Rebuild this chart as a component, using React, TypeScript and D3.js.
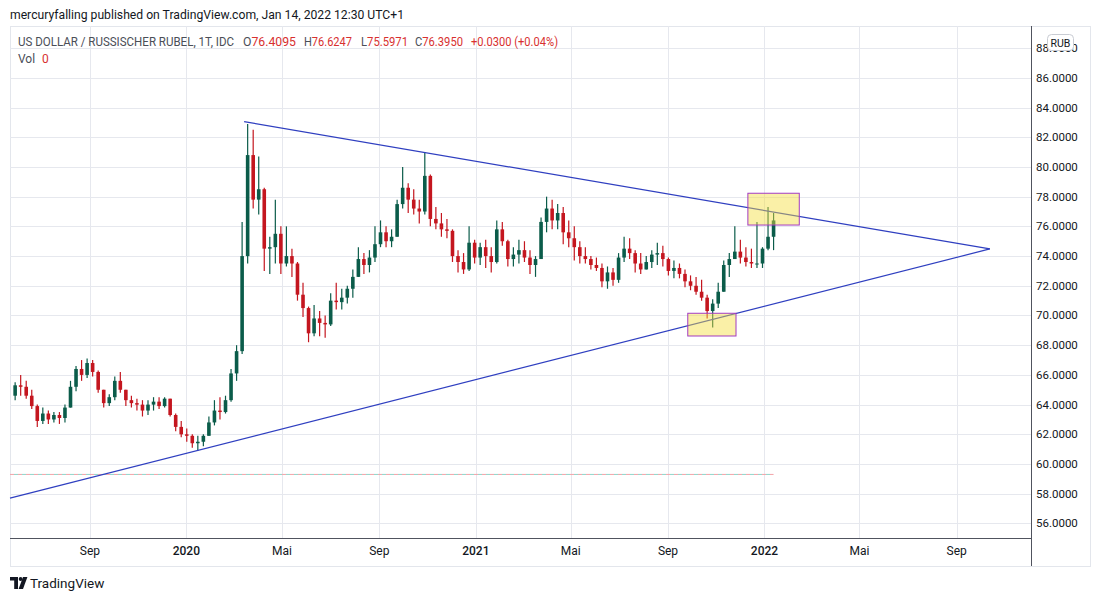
import React from "react";
import * as d3 from "d3";

// ---- data (weekly candles, week of 2019-05-27 .. week of 2022-01-10) ----
const firstOpen = 64.6;
const closes = [
  65.3, 65.2, 64.6, 63.9, 62.9, 63.4, 63.0, 63.3, 63.1, 63.8,
  65.2, 66.4, 66.0, 66.8, 66.2, 65.0, 64.1, 64.5, 65.6, 65.0,
  64.3, 64.1, 64.0, 63.6, 64.0, 64.2, 63.9, 64.4, 63.3, 62.5,
  62.0, 61.9, 61.4, 61.5, 61.9, 62.8, 63.6, 63.5, 64.3, 66.1,
  67.6, 74.0, 80.8, 77.8, 78.5, 74.5, 74.6, 75.5, 73.5, 74.0,
  73.5, 71.4, 70.5, 68.8, 69.8, 69.5, 69.4, 71.0, 70.9, 71.2,
  71.8, 72.6, 73.8, 73.4, 73.9, 74.8, 75.6, 75.0, 75.3, 77.5,
  78.6, 77.8, 77.2, 77.0, 79.4, 76.5, 76.2, 75.8, 75.7, 74.0,
  73.6, 73.1, 74.9, 73.9, 74.6, 74.0, 73.6, 75.8, 75.0, 73.8,
  74.1, 74.4, 73.9, 73.4, 73.8, 76.3, 77.2, 76.4, 76.9, 75.6,
  75.2, 74.6, 74.0, 73.8, 73.4, 73.2, 72.3, 72.9, 72.4, 73.9,
  74.5, 74.2, 73.5, 73.1, 73.6, 74.1, 74.2, 73.8, 73.0, 73.2,
  72.8, 72.3, 72.0, 71.6, 71.2, 70.3, 70.8, 71.6, 73.4, 73.8,
  74.3, 73.9, 73.6, 73.5, 73.5, 74.5, 75.3, 76.4,
];
const highs = [
  65.5, 66.0, 65.6, 65.0, 64.0, 63.8, 63.6, 63.5, 63.5, 64.0,
  65.6, 66.6, 67.0, 67.1, 67.0, 66.3, 65.0, 64.7, 65.9, 66.2,
  65.0, 64.6, 64.4, 64.3, 64.3, 64.5, 64.5, 64.5, 64.4, 63.4,
  62.9, 62.4, 62.0, 61.9, 62.0, 63.2, 64.3, 64.5, 64.6, 66.4,
  68.0, 76.3, 82.9, 82.5, 80.7, 78.6, 75.3, 77.8, 76.0, 76.0,
  74.5, 73.6, 72.2, 70.6, 70.7, 70.3, 70.0, 71.5, 72.2, 71.8,
  72.0, 73.1, 74.6, 74.2, 74.4, 76.0, 76.4, 76.0, 75.8, 77.8,
  80.0, 78.9, 78.5, 77.8, 81.0, 79.5, 77.3, 76.9, 76.5, 75.8,
  74.4, 74.2, 76.0, 75.1, 74.9, 75.1, 74.6, 76.4, 76.3, 75.1,
  74.6, 75.1, 75.0, 74.4, 74.0, 76.6, 78.0, 77.8, 77.5, 77.3,
  76.4, 76.0, 75.0, 74.6, 74.0, 73.9, 73.5, 73.3, 73.2, 74.2,
  75.3, 75.2, 74.4, 74.2, 74.0, 74.4, 74.9, 74.7, 73.9, 73.7,
  73.5, 73.1, 72.7, 72.6, 72.4, 71.4, 71.1, 72.2, 73.7, 74.2,
  76.0, 75.1, 74.6, 74.5, 76.3, 74.6, 77.3, 76.9,
];
const lows = [
  64.3, 64.6, 64.4, 63.7, 62.5, 62.7, 62.7, 62.8, 62.7, 62.8,
  63.8, 64.9, 65.6, 65.8, 65.9, 64.8, 63.8, 63.9, 64.3, 64.8,
  63.9, 63.8, 63.6, 63.2, 63.3, 63.6, 63.7, 63.8, 63.2, 62.2,
  61.8, 61.5, 61.1, 60.9, 61.2, 61.9, 62.6, 63.0, 63.4, 64.2,
  65.6, 67.4, 73.5, 77.2, 76.8, 73.0, 72.8, 73.5, 72.8, 73.3,
  72.6, 71.0, 69.9, 68.2, 68.6, 68.6, 68.5, 69.3, 70.4, 70.4,
  70.8, 71.2, 72.6, 72.8, 72.9, 73.6, 74.6, 74.6, 74.6, 75.3,
  77.2, 76.9, 76.8, 76.2, 76.8, 76.0, 75.8, 75.3, 75.2, 73.6,
  72.9, 72.8, 73.0, 73.5, 73.4, 73.2, 72.9, 73.5, 74.7, 73.3,
  73.3, 73.5, 73.6, 72.8, 72.6, 73.8, 75.6, 75.8, 75.8, 74.8,
  74.6, 73.7, 73.5, 73.5, 73.1, 73.0, 71.9, 71.8, 72.0, 72.2,
  73.6, 73.8, 72.9, 72.8, 73.1, 73.2, 73.4, 73.3, 72.7, 72.5,
  72.5, 71.9, 71.7, 71.4, 71.0, 69.8, 69.2, 70.5, 71.6, 72.6,
  73.8, 73.5, 73.3, 73.2, 73.2, 73.2, 74.4, 74.4,
];

const priceTicks = [56, 58, 60, 62, 64, 66, 68, 70, 72, 74, 76, 78, 80, 82, 84, 86, 88];
const timeTickDates = [
  new Date(2019, 8, 1), new Date(2020, 0, 1), new Date(2020, 4, 1), new Date(2020, 8, 1),
  new Date(2021, 0, 1), new Date(2021, 4, 1), new Date(2021, 8, 1), new Date(2022, 0, 1),
  new Date(2022, 4, 1), new Date(2022, 8, 1),
];
const timeTickLabels = ["Sep", "2020", "Mai", "Sep", "2021", "Mai", "Sep", "2022", "Mai", "Sep"];

// trend lines [date, value]
const upperLine: [Date, number][] = [[new Date(2020, 2, 14), 83.05], [new Date(2022, 9, 13), 74.48]];
const lowerLine: [Date, number][] = [[new Date(2019, 4, 23), 57.71], [new Date(2022, 9, 13), 74.48]];
// highlight boxes [date0, date1, valueTop, valueBottom]
const boxes: [Date, Date, number, number][] = [
  [new Date(2021, 11, 11), new Date(2022, 1, 14), 78.23, 76.09],
  [new Date(2021, 8, 26), new Date(2021, 10, 26), 70.15, 68.62],
];
const priceLineValue = 59.3;

const headerLine = "mercuryfalling published on TradingView.com, Jan 14, 2022 12:30 UTC+1";
const symbolTitle = "US DOLLAR / RUSSISCHER RUBEL, 1T, IDC";
const ohlcLabels = ["O", "H", "L", "C"];
const ohlcValues = ["76.4095", "76.6247", "75.5971", "76.3950"];
const changeText = "+0.0300 (+0.04%)";

const FONT = "Roboto, 'Liberation Sans', sans-serif";
const UP = "#0b5c4a";
const DOWN = "#c4161f";
const RED_TXT = "#d8302f";
const GRAY_TXT = "#4a4e57";

export default function App() {
  const L = 10, R = 1031, T = 26, B = 538;
  const x = d3.scaleTime().domain([new Date(2019, 4, 23), new Date(2022, 11, 4)]).range([L, R]);
  const y = d3.scaleLinear().domain([55.02, 89.49]).range([B, T]);

  const candles = closes.map((c, i) => ({
    date: new Date(2019, 4, 29 + 7 * i, 12),
    open: i === 0 ? firstOpen : closes[i - 1],
    close: c,
    high: highs[i],
    low: lows[i],
  }));
  const lastDate = candles[candles.length - 1].date;
  const line = d3.line<[Date, number]>().x((d) => x(d[0])).y((d) => y(d[1]));

  // legend segment layout [x, width]
  const ohlcPos: [number, number][] = [[243, 53], [304, 48], [361, 47], [415, 48]];

  return (
    <svg width={1100} height={601} style={{ position: "absolute", left: 0, top: 0, background: "#fff" }} fontFamily={FONT}>
      <rect x={0} y={0} width={1100} height={601} fill="#fff" />
      {/* header */}
      <text x={10} y={19} fontSize={12.5} fill="#131722" textLength={394} lengthAdjust="spacingAndGlyphs">{headerLine}</text>

      {/* frame */}
      <rect x={L + 0.5} y={T + 0.5} width={1090 - L} height={566 - T} fill="none" stroke="#e3e6ec" />

      {/* grid */}
      {priceTicks.map((v) => (
        <line key={"h" + v} x1={L} x2={R} y1={Math.round(y(v)) + 0.5} y2={Math.round(y(v)) + 0.5} stroke="#e6e8ee" />
      ))}
      {timeTickDates.map((d, i) => (
        <line key={"v" + i} x1={Math.round(x(d)) + 0.5} x2={Math.round(x(d)) + 0.5} y1={T} y2={B} stroke="#e6e8ee" />
      ))}

      {/* legend */}
      <text x={18} y={46} fontSize={12} fill={GRAY_TXT} textLength={216} lengthAdjust="spacingAndGlyphs">{symbolTitle}</text>
      {ohlcLabels.map((l, i) => (
        <text key={l} x={ohlcPos[i][0]} y={46} fontSize={12} fill={GRAY_TXT} textLength={ohlcPos[i][1]} lengthAdjust="spacingAndGlyphs">
          {l}<tspan fill={RED_TXT}>{ohlcValues[i]}</tspan>
        </text>
      ))}
      <text x={471} y={46} fontSize={12} fill={RED_TXT} textLength={87} lengthAdjust="spacingAndGlyphs">{changeText}</text>
      <text y={63} fontSize={12} fill={GRAY_TXT}>
        <tspan x={18}>Vol</tspan>
        <tspan x={42} fill={RED_TXT}>0</tspan>
      </text>

      {/* price line */}
      <line x1={L} x2={x(lastDate)} y1={y(priceLineValue)} y2={y(priceLineValue)} stroke="#f3a3a8" strokeDasharray="4 4" />
      <line x1={L + 4} x2={x(lastDate)} y1={y(priceLineValue)} y2={y(priceLineValue)} stroke="#8fd5c9" strokeDasharray="4 4" />

      {/* candles */}
      {candles.map((c, i) => {
        const cx = x(c.date);
        const col = c.close >= c.open ? UP : DOWN;
        const top = y(Math.max(c.open, c.close));
        const bot = y(Math.min(c.open, c.close));
        return (
          <g key={i}>
            <line x1={cx} x2={cx} y1={y(c.high)} y2={y(c.low)} stroke={col} strokeWidth={1.2} />
            <rect x={cx - 1.8} y={top} width={3.6} height={Math.max(1, bot - top)} fill={col} />
          </g>
        );
      })}

      {/* trend lines */}
      <path d={line(upperLine) || ""} fill="none" stroke="#2f3fc0" strokeWidth={1.2} />
      <path d={line(lowerLine) || ""} fill="none" stroke="#2f3fc0" strokeWidth={1.2} />

      {/* boxes */}
      {boxes.map((b, i) => (
        <rect key={"b" + i} x={x(b[0])} y={y(b[2])} width={x(b[1]) - x(b[0])} height={y(b[3]) - y(b[2])}
          fill="#f5dd3c" fillOpacity={0.45} stroke="#a23bc2" strokeWidth={1} />
      ))}

      {/* axes */}
      <line x1={L} x2={R} y1={B + 0.5} y2={B + 0.5} stroke="#50535e" />
      <line x1={R + 0.5} x2={R + 0.5} y1={T} y2={566} stroke="#50535e" />

      {priceTicks.map((v) => (
        <text key={"pt" + v} x={1036} y={y(v) + 4} fontSize={11.5} fill="#131722">{v.toFixed(4)}</text>
      ))}
      <rect x={1047.5} y={34.5} width={26} height={16} rx={4} fill="#fff" stroke="#c9ccd3" />
      <text x={1060.5} y={46.5} fontSize={10.5} textAnchor="middle" fill="#131722">RUB</text>

      {timeTickDates.map((d, i) => (
        <text key={"tt" + i} x={x(d)} y={555} fontSize={12} textAnchor="middle" fill="#131722"
          fontWeight={/^\d/.test(timeTickLabels[i]) ? 500 : 400}>{timeTickLabels[i]}</text>
      ))}

      {/* logo */}
      <path d="M10 577 H18 V589 H14.2 V580.6 H10 Z" fill="#131722" />
      <circle cx={20.6} cy={579} r={1.9} fill="#131722" />
      <path d="M23 577 H27.4 L23 589 H18.6 Z" fill="#131722" />
      <text x={30} y={588} fontSize={13.5} fill="#131722">TradingView</text>
    </svg>
  );
}
